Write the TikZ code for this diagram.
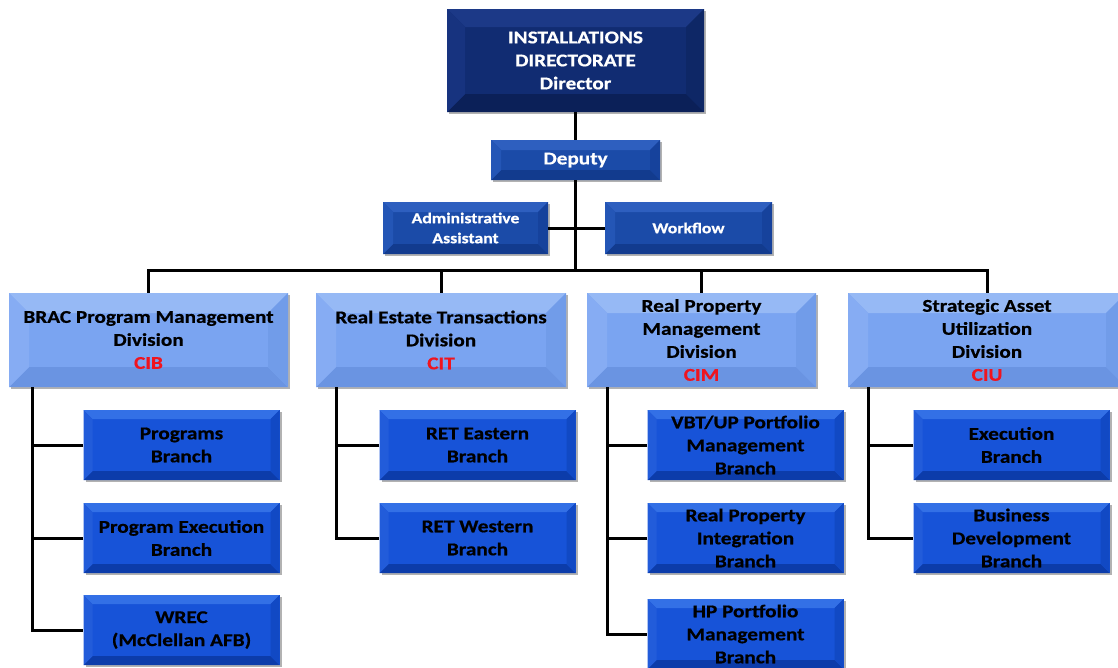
\documentclass[tikz,border=0pt]{standalone}
\usepackage{fontspec}
\setmainfont{Carlito}[FakeStretch=1.18, BoldFeatures={FakeBold=0.6}]
\usetikzlibrary{calc,shadows}
\definecolor{navy}{HTML}{112C72}
\definecolor{navyT}{HTML}{1C3987}
\definecolor{navyB}{HTML}{0B2058}
\definecolor{navyL}{HTML}{17337F}
\definecolor{navyR}{HTML}{0E2766}
\definecolor{smm}{HTML}{1B4BA8}
\definecolor{smT}{HTML}{2E5FBF}
\definecolor{smB}{HTML}{123B8E}
\definecolor{smL}{HTML}{2456B6}
\definecolor{smR}{HTML}{16429C}
\definecolor{divm}{HTML}{7AA4F1}
\definecolor{divT}{HTML}{96B9F5}
\definecolor{divB}{HTML}{6A94E2}
\definecolor{divL}{HTML}{86ACF3}
\definecolor{divR}{HTML}{719CE9}
\definecolor{brm}{HTML}{1753D8}
\definecolor{brT}{HTML}{3370E6}
\definecolor{brB}{HTML}{0C3CAA}
\definecolor{brL}{HTML}{225CDA}
\definecolor{brR}{HTML}{1149C4}
\definecolor{cred}{HTML}{F0141E}
\tikzset{
  bevel/.style n args={6}{fill=#1,
    path picture={
      \def\bd{#6}
      \fill[#2] (path picture bounding box.north west) -- (path picture bounding box.north east)
        -- ([shift={(-\bd,-\bd)}]path picture bounding box.north east) -- ([shift={(\bd,-\bd)}]path picture bounding box.north west) -- cycle;
      \fill[#3] (path picture bounding box.south west) -- (path picture bounding box.south east)
        -- ([shift={(-\bd,\bd)}]path picture bounding box.south east) -- ([shift={(\bd,\bd)}]path picture bounding box.south west) -- cycle;
      \fill[#4] (path picture bounding box.north west) -- (path picture bounding box.south west)
        -- ([shift={(\bd,\bd)}]path picture bounding box.south west) -- ([shift={(\bd,-\bd)}]path picture bounding box.north west) -- cycle;
      \fill[#5] (path picture bounding box.north east) -- (path picture bounding box.south east)
        -- ([shift={(-\bd,\bd)}]path picture bounding box.south east) -- ([shift={(-\bd,-\bd)}]path picture bounding box.north east) -- cycle;
    }},
  boxbase/.style={inner sep=0pt, align=center, drop shadow={shadow xshift=2pt, shadow yshift=-2pt, opacity=0.3, fill=black}},
  topbox/.style={boxbase, bevel={navy}{navyT}{navyB}{navyL}{navyR}{18pt}, text=white,
    font=\fontsize{18}{23}\selectfont\bfseries},
  smallbox/.style={boxbase, bevel={smm}{smT}{smB}{smL}{smR}{10pt}, text=white,
    font=\fontsize{15}{20}\selectfont\bfseries},
  divbox/.style={boxbase, bevel={divm}{divT}{divB}{divL}{divR}{20pt}, text=black,
    minimum height=94pt, font=\fontsize{18}{23}\selectfont\bfseries},
  brbox/.style={boxbase, bevel={brm}{brT}{brB}{brL}{brR}{9pt}, text=black,
    minimum width=196pt, minimum height=70pt, font=\fontsize{18}{23}\selectfont\bfseries},
  conn/.style={line width=3pt, black},
}
\begin{document}
\begin{tikzpicture}[x=1pt,y=-1pt]
\useasboundingbox (0,0) rectangle (1118,667);
% top
\node[topbox, minimum width=257pt, minimum height=103pt] (dir) at (575.5,60.5) {INSTALLATIONS\\DIRECTORATE\\Director};
\node[smallbox, font=\fontsize{18}{23}\selectfont\bfseries, minimum width=169pt, minimum height=40pt] (dep) at (575.5,160) {Deputy};
\node[smallbox, minimum width=165pt, minimum height=52pt] (adm) at (465.5,228) {Administrative\\Assistant};
\node[smallbox, minimum width=167pt, minimum height=52pt] (wf) at (688.5,228) {Workflow};
\coordinate (hub) at (575.5,270);
% divisions
\node[divbox, minimum width=279pt] (brac) at (148.5,340) {BRAC Program Management\\Division\\\textcolor{cred}{CIB}};
\node[divbox, minimum width=250pt] (ret) at (441,340) {Real Estate Transactions\\Division\\\textcolor{cred}{CIT}};
\node[divbox, minimum width=229pt] (rpm) at (701.5,340) {Real Property\\Management\\Division\\\textcolor{cred}{CIM}};
\node[divbox, minimum width=278pt] (sau) at (987,340) {Strategic Asset\\Utilization\\Division\\\textcolor{cred}{CIU}};
% branches
\node[brbox] (b1) at (181.5,445) {Programs\\Branch};
\node[brbox] (b2) at (181.5,538) {Program Execution\\Branch};
\node[brbox] (b3) at (181.5,630) {WREC\\(McClellan AFB)};
\node[brbox] (t1) at (477.5,445) {RET Eastern\\Branch};
\node[brbox] (t2) at (477.5,538) {RET Western\\Branch};
\node[brbox] (m1) at (745.5,445) {VBT/UP Portfolio\\Management\\Branch};
\node[brbox] (m2) at (745.5,538) {Real Property\\Integration\\Branch};
\node[brbox] (m3) at (745.5,634) {HP Portfolio\\Management\\Branch};
\node[brbox] (u1) at (1011.5,445) {Execution\\Branch};
\node[brbox] (u2) at (1011.5,538) {Business\\Development\\Branch};
% connectors
\draw[conn] (dir.south) -- (dep.north);
\draw[conn] (dep.south) -- (hub);
\draw[conn] (adm.east) -- (wf.west);
\draw[conn] (brac.north) |- (hub) -| (sau.north);
\draw[conn] (ret.north) -- (ret.north |- hub);
\draw[conn] (rpm.north) -- (rpm.north |- hub);
\coordinate (bt) at (32,387);
\coordinate (tt) at (336,387);
\coordinate (mt) at (607,387);
\coordinate (ut) at (868,387);
\draw[conn] (bt) |- (b3.west);
\draw[conn] (b1.west) -- (b1.west -| bt);
\draw[conn] (b2.west) -- (b2.west -| bt);
\draw[conn] (tt) |- (t2.west);
\draw[conn] (t1.west) -- (t1.west -| tt);
\draw[conn] (mt) |- (m3.west);
\draw[conn] (m1.west) -- (m1.west -| mt);
\draw[conn] (m2.west) -- (m2.west -| mt);
\draw[conn] (ut) |- (u2.west);
\draw[conn] (u1.west) -- (u1.west -| ut);
\end{tikzpicture}
\end{document}
